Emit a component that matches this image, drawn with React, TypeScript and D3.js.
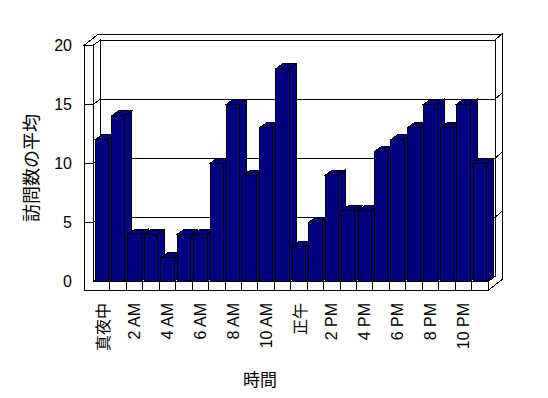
import React from "react";
import * as d3 from "d3";

const categories = [
  "真夜中", "1 AM", "2 AM", "3 AM", "4 AM", "5 AM", "6 AM", "7 AM", "8 AM", "9 AM", "10 AM", "11 AM",
  "正午", "1 PM", "2 PM", "3 PM", "4 PM", "5 PM", "6 PM", "7 PM", "8 PM", "9 PM", "10 PM", "11 PM",
];
const visits = [12, 14, 4, 4, 2, 4, 4, 10, 15, 9, 13, 18, 3, 5, 9, 6, 6, 11, 12, 13, 15, 13, 15, 10];
const yTicks = [0, 5, 10, 15, 20];
const yTitle = "訪問数の平均";
const xTitle = "時間";

const W = 548;
const H = 398;
const X0 = 93.5;
const X1 = 488;
const Y0 = 281.5;
const YT = 45;
const DX = 7;
const DY = -5;
const TX = 7;
const TY = -6;
const WALL = 9;

const NAVY = "#000080";
const FONT = "'Liberation Sans', Arial, 'Noto Sans CJK JP', sans-serif";
const CJK = "'Noto Sans CJK JP', sans-serif";

const poly = (pts: number[][]) => "M" + pts.map((p) => p.join(",")).join("L") + "Z";

export default function App() {
  const y = d3.scaleLinear().domain([0, 20]).range([Y0, YT]);
  const x = d3
    .scaleBand<string>()
    .domain(categories)
    .range([X0, X1])
    .paddingInner(0.19)
    .paddingOuter(0.095);
  const step = x.step();
  const bw = x.bandwidth();

  const L = X0 - WALL;
  const B = Y0 + WALL;
  const bxL = X0 + DX;
  const bxR = X1 + DX;
  const byT = YT + DY;
  const byB = Y0 + DY;
  const oxR = X1 + DX + TX;
  const oyT = YT + DY + TY;

  const common = { stroke: "#000", strokeWidth: 1, shapeRendering: "crispEdges" as const };

  return (
    <svg
      width={W}
      height={H}
      style={{ position: "absolute", left: 0, top: 0, background: "#fff" }}
      fontFamily={FONT}
    >
      <rect x={0} y={0} width={W} height={H} fill="#fff" />
      <path d={poly([[bxL, byT], [bxR, byT], [bxR, byB], [bxL, byB]])} fill="#fff" {...common} />
      <path
        d={poly([[L, YT], [X0, YT], [bxL, byT], [bxR, byT], [oxR, oyT], [L + DX + TX, oyT]])}
        fill="#fff"
        {...common}
      />
      <path
        d={poly([[bxR, byT], [oxR, oyT], [oxR, B + DY + TY], [X1, B], [X1, Y0], [bxR, byB]])}
        fill="#fff"
        {...common}
      />
      <path d={poly([[X0, YT], [bxL, byT], [bxL, byB], [X0, Y0]])} fill="#fff" {...common} />
      <path d={poly([[X0, Y0], [bxL, byB], [bxR, byB], [X1, Y0]])} fill="#fff" {...common} />
      <path d={poly([[L, YT], [X0, YT], [X0, Y0], [X1, Y0], [X1, B], [L, B]])} fill="#fff" {...common} />
      {yTicks
        .filter((v) => v > 0 && v < 20)
        .map((v) => (
          <g key={v} {...common} fill="none">
            <line x1={L} x2={X0} y1={y(v)} y2={y(v)} />
            <line x1={X0} x2={bxL} y1={y(v)} y2={y(v) + DY} />
            <line x1={bxL} x2={bxR} y1={y(v) + DY} y2={y(v) + DY} />
            <line x1={bxR} x2={oxR} y1={y(v) + DY} y2={y(v) + DY + TY} />
          </g>
        ))}
      {categories.slice(1).map((c, i) => (
        <line key={c} x1={X0 + (i + 1) * step} x2={X0 + (i + 1) * step} y1={Y0} y2={B} {...common} />
      ))}
      {categories.map((c, i) => {
        const xl = x(c)!;
        const xr = xl + bw;
        const yt = y(visits[i]);
        const yb = Y0;
        return (
          <g key={c} fill={NAVY} {...common}>
            <path d={poly([[xr, yb], [xr + DX, yb + DY], [xr + DX, yt + DY], [xr, yt]])} />
            <path d={poly([[xl, yt], [xl + DX, yt + DY], [xr + DX, yt + DY], [xr, yt]])} />
            <path d={poly([[xl, yt], [xr, yt], [xr, yb], [xl, yb]])} />
          </g>
        );
      })}
      {yTicks.map((v) => (
        <text key={v} x={72} y={y(v)} textAnchor="end" dominantBaseline="central" fontSize={16} fill="#000">
          {v}
        </text>
      ))}
      {categories.map((c, i) =>
        i % 2 === 0 ? (
          <text
            key={c}
            transform={`translate(${x(c)! + bw / 2},${303}) rotate(-90)`}
            textAnchor="end"
            dominantBaseline="central"
            fontSize={16}
            fontFamily={/[A-Z0-9]/.test(c) ? FONT : CJK}
            fill="#000"
          >
            {c}
          </text>
        ) : null
      )}
      <text
        transform={`translate(30,168) rotate(-90)`}
        textAnchor="middle"
        dominantBaseline="central"
        fontSize={18}
        fontFamily={CJK}
        fill="#000"
      >
        {yTitle}
      </text>
      <text x={260} y={378} textAnchor="middle" dominantBaseline="central" fontSize={17} fontFamily={CJK} fill="#000">
        {xTitle}
      </text>
    </svg>
  );
}
